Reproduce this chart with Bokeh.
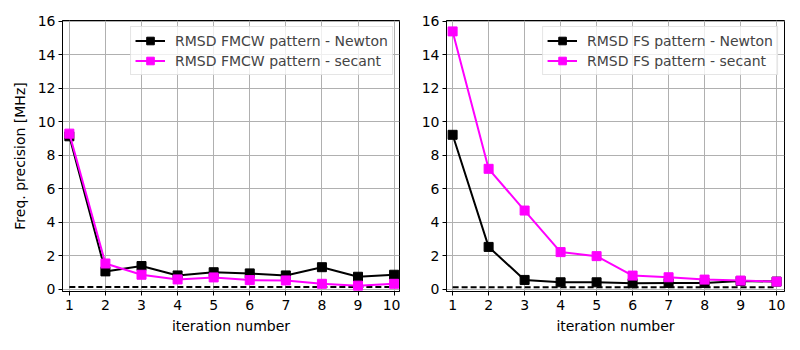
from bokeh.plotting import figure
from bokeh.layouts import row
from bokeh.models import FixedTicker, Range1d
from bokeh.embed import file_html
from bokeh.resources import INLINE

iterations = [1, 2, 3, 4, 5, 6, 7, 8, 9, 10]

fmcw_newton = [9.14, 1.08, 1.40, 0.84, 1.03, 0.96, 0.84, 1.33, 0.76, 0.88]
fmcw_secant = [9.30, 1.55, 0.88, 0.60, 0.72, 0.56, 0.54, 0.34, 0.23, 0.34]
fmcw_bound = [0.15, 0.15]

fs_newton = [9.23, 2.54, 0.57, 0.43, 0.43, 0.37, 0.39, 0.39, 0.51, 0.47]
fs_secant = [15.40, 7.20, 4.71, 2.23, 1.99, 0.83, 0.73, 0.59, 0.53, 0.47]
fs_bound = [0.13, 0.13]

bound_x = [1, 10]
y_ticks = [0, 2, 4, 6, 8, 10, 12, 14, 16]

FONT = "DejaVu Sans"
MAGENTA = "#ff00ff"


def make_fig(newton, secant, bound, name, border_left, border_right, x_start, x_end, ylabel=None):
    p = figure(width=400, height=350, output_backend="svg", toolbar_location=None,
               x_range=Range1d(x_start, x_end), y_range=Range1d(-0.12, 16.05),
               min_border_left=border_left, min_border_right=border_right,
               min_border_top=20, min_border_bottom=59)
    p.outline_line_color = "black"
    p.outline_line_width = 1
    p.outline_line_alpha = 1
    p.background_fill_color = "white"
    p.border_fill_color = "white"

    p.line(bound_x, bound, line_color="black", line_dash="6 3", line_width=2)

    lab_n = f"RMSD {name} pattern - Newton"
    lab_s = f"RMSD {name} pattern - secant"
    p.line(iterations, newton, line_color="black", line_width=2, legend_label=lab_n)
    p.scatter(iterations, newton, marker="square", size=9, fill_color="black",
              line_color="black", legend_label=lab_n)
    p.line(iterations, secant, line_color=MAGENTA, line_width=2, legend_label=lab_s)
    p.scatter(iterations, secant, marker="square", size=9, fill_color=MAGENTA,
              line_color=MAGENTA, legend_label=lab_s)

    p.xaxis.ticker = FixedTicker(ticks=iterations)
    p.yaxis.ticker = FixedTicker(ticks=y_ticks)
    for ax in (p.xaxis, p.yaxis):
        ax.major_tick_in = 0
        ax.major_tick_out = 4
        ax.minor_tick_in = 0
        ax.minor_tick_out = 0
        ax.major_label_text_font = FONT
        ax.major_label_text_font_size = "14px"
        ax.major_label_text_color = "black"
        ax.axis_line_color = "black"
        ax.major_tick_line_color = "black"
        ax.axis_label_text_font = FONT
        ax.axis_label_text_font_size = "14px"
        ax.axis_label_text_font_style = "normal"
        ax.axis_label_text_color = "black"
    p.xaxis.major_label_standoff = 4
    p.yaxis.major_label_standoff = 3
    p.xaxis.axis_label = "iteration number"
    p.xaxis.axis_label_standoff = 5
    if ylabel:
        p.yaxis.axis_label = ylabel
        p.yaxis.axis_label_standoff = 7

    p.grid.grid_line_color = "#b0b0b0"
    p.grid.grid_line_width = 1

    lg = p.legend[0]
    lg.location = "top_right"
    lg.label_text_font = FONT
    lg.label_text_font_size = "14px"
    lg.glyph_width = 30
    lg.glyph_height = 19
    lg.label_height = 19
    lg.padding = 4
    lg.spacing = 1
    lg.margin = 6
    lg.label_standoff = 10
    lg.border_line_color = "#cccccc"
    lg.background_fill_alpha = 0.8
    return p


p1 = make_fig(fmcw_newton, fmcw_secant, fmcw_bound, "FMCW", 62, 1, 0.81, 10.15,
              ylabel="Freq. precision [MHz]")
p2 = make_fig(fs_newton, fs_secant, fs_bound, "FS", 46, 16, 0.83, 10.22)

p = row(p1, p2)
open("out.html", "w").write(file_html(p, INLINE))
